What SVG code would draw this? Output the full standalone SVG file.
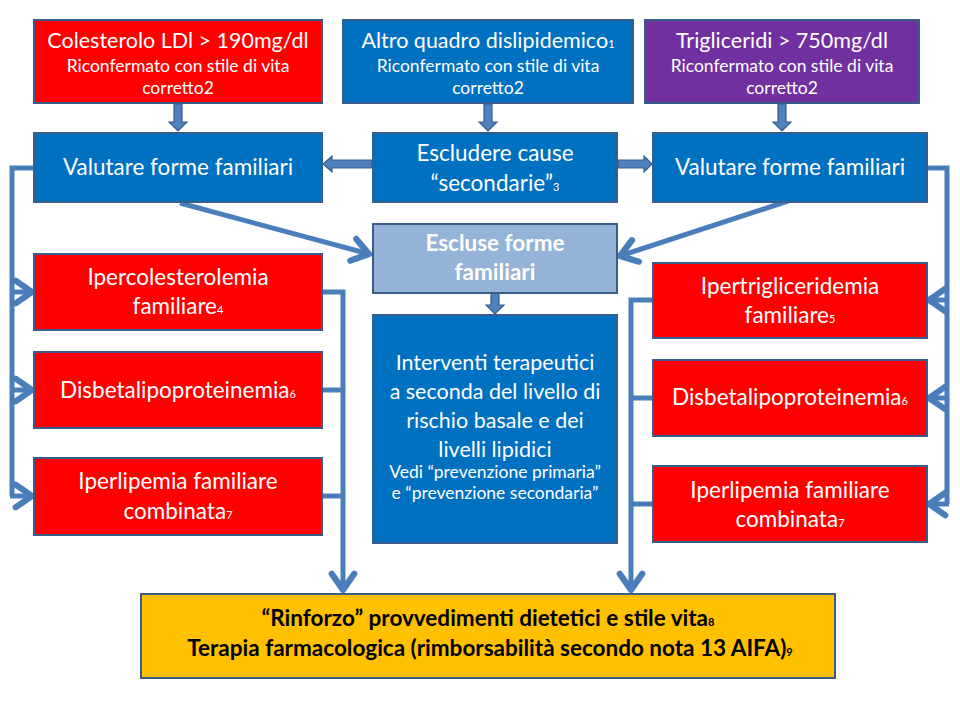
<svg xmlns="http://www.w3.org/2000/svg" width="960" height="720" viewBox="0 0 960 720">
<defs>
<style>
.box{stroke:#385D8A;stroke-width:2}
.red{fill:#FF0000}
.blue{fill:#0070C0}
.purple{fill:#7030A0}
.light{fill:#95B3D7}
.yellow{fill:#FFC000}
text{font-family:Lato,"Open Sans","Liberation Sans",sans-serif;fill:#fff;text-anchor:middle}
.t{font-size:22.5px}
.h{font-size:21.5px}
.m{font-size:21.5px}
.s{font-size:17.5px}
.b{font-weight:bold}
.k{fill:#000;font-weight:bold;font-size:22.5px}
.sub{font-size:11px}
.conn{fill:none;stroke:#4A7EBB;stroke-width:5;stroke-linejoin:miter}
.blk{fill:#4F81BD;stroke:#385D8A;stroke-width:1.2}
</style>
<marker id="oa" markerUnits="userSpaceOnUse" markerWidth="30" markerHeight="30" viewBox="-16 -12 20 24" refX="0" refY="0" orient="auto">
<path d="M-13,-9 L0,0 L-13,9" fill="none" stroke="#4A7EBB" stroke-width="5" stroke-linecap="round" stroke-linejoin="round"/>
</marker>
</defs>
<rect width="960" height="720" fill="#fff"/>

<g id="connectors">
<polygon class="blk" points="174,104 182,104 182,122 187,122 178,131 169,122 174,122"/>
<polygon class="blk" points="484,104 492,104 492,122 497,122 488,131 479,122 484,122"/>
<polygon class="blk" points="778,104 786,104 786,122 791,122 782,131 773,122 778,122"/>
<polygon class="blk" points="372,160 332,160 332,156 323,164 332,172 332,168 372,168"/>
<polygon class="blk" points="618,160 644,160 644,156 652,164 644,172 644,168 618,168"/>
<polygon class="blk" points="491,293 499,293 499,305 504,305 495,314 486,305 491,305"/>
<path class="conn" d="M180,203 L369,254" marker-end="url(#oa)"/>
<path class="conn" d="M788,201 L620,256" marker-end="url(#oa)"/>
<path class="conn" d="M34,168 H12 V496"/>
<path class="conn" d="M12,292 H32" marker-end="url(#oa)"/>
<path class="conn" d="M12,390 H32" marker-end="url(#oa)"/>
<path class="conn" d="M10,496 H32" marker-end="url(#oa)"/>
<path class="conn" d="M927,168 H947 V504"/>
<path class="conn" d="M947,300 H929" marker-end="url(#oa)"/>
<path class="conn" d="M947,398 H929" marker-end="url(#oa)"/>
<path class="conn" d="M949,504 H929" marker-end="url(#oa)"/>
<path class="conn" d="M321,292 H343 V590" marker-end="url(#oa)"/>
<path class="conn" d="M321,390 H343"/>
<path class="conn" d="M321,496 H343"/>
<path class="conn" d="M653,300 H631 V590" marker-end="url(#oa)"/>
<path class="conn" d="M653,398 H631"/>
<path class="conn" d="M653,504 H631"/>
</g>

<g id="n1">
<rect class="box red" x="34" y="20" width="288" height="83"/>
<text class="h" x="178" y="48">Colesterolo LDl &gt; 190mg/dl</text>
<text class="s" x="178" y="72">Riconfermato con stile di vita</text>
<text class="s" x="178" y="94">corretto2</text>
</g>
<g id="n2">
<rect class="box blue" x="343" y="20" width="290" height="83"/>
<text class="h" x="488" y="48">Altro quadro dislipidemico<tspan class="sub">1</tspan></text>
<text class="s" x="488" y="72">Riconfermato con stile di vita</text>
<text class="s" x="488" y="94">corretto2</text>
</g>
<g id="n3">
<rect class="box purple" x="645" y="20" width="274" height="83"/>
<text class="h" x="782" y="48">Trigliceridi &gt; 750mg/dl</text>
<text class="s" x="782" y="72">Riconfermato con stile di vita</text>
<text class="s" x="782" y="94">corretto2</text>
</g>

<g id="n4">
<rect class="box blue" x="34" y="133" width="288" height="69"/>
<text class="t" x="178" y="175">Valutare forme familiari</text>
</g>
<g id="n5">
<rect class="box blue" x="373" y="133" width="244" height="69"/>
<text class="t" x="495" y="161">Escludere cause</text>
<text class="t" x="495" y="191">“secondarie”<tspan class="sub">3</tspan></text>
</g>
<g id="n6">
<rect class="box blue" x="653" y="133" width="274" height="69"/>
<text class="t" x="790" y="175">Valutare forme familiari</text>
</g>

<g id="n7">
<rect class="box light" x="373" y="224" width="244" height="69"/>
<text class="t b" x="495" y="251">Escluse forme</text>
<text class="t b" x="495" y="280">familiari</text>
</g>
<g id="n8">
<rect class="box blue" x="373" y="315" width="244" height="228"/>
<text class="m" x="495" y="370">Interventi terapeutici</text>
<text class="m" x="495" y="399">a seconda del livello di</text>
<text class="m" x="495" y="428">rischio basale e dei</text>
<text class="m" x="495" y="457">livelli lipidici</text>
<text class="s" x="495" y="478">Vedi “prevenzione primaria”</text>
<text class="s" x="495" y="499">e “prevenzione secondaria”</text>
</g>

<g id="n9">
<rect class="box red" x="34" y="254" width="288" height="76"/>
<text class="t" x="178" y="285">Ipercolesterolemia</text>
<text class="t" x="178" y="314">familiare<tspan class="sub">4</tspan></text>
</g>
<g id="n10">
<rect class="box red" x="34" y="352" width="288" height="76"/>
<text class="t" x="178" y="398">Disbetalipoproteinemia<tspan class="sub">6</tspan></text>
</g>
<g id="n11">
<rect class="box red" x="34" y="458" width="288" height="77"/>
<text class="t" x="178" y="489">Iperlipemia familiare</text>
<text class="t" x="178" y="519">combinata<tspan class="sub">7</tspan></text>
</g>

<g id="n12">
<rect class="box red" x="653" y="263" width="274" height="75"/>
<text class="t" x="790" y="294">Ipertrigliceridemia</text>
<text class="t" x="790" y="323">familiare<tspan class="sub">5</tspan></text>
</g>
<g id="n13">
<rect class="box red" x="653" y="360" width="274" height="76"/>
<text class="t" x="790" y="405">Disbetalipoproteinemia<tspan class="sub">6</tspan></text>
</g>
<g id="n14">
<rect class="box red" x="653" y="466" width="274" height="76"/>
<text class="t" x="790" y="498">Iperlipemia familiare</text>
<text class="t" x="790" y="527">combinata<tspan class="sub">7</tspan></text>
</g>

<g id="n15">
<rect class="box yellow" x="141" y="594" width="694" height="84"/>
<text class="k" x="488" y="626">“Rinforzo” provvedimenti dietetici e stile vita<tspan class="sub">8</tspan></text>
<text class="k" x="490" y="656">Terapia farmacologica (rimborsabilità secondo nota 13 AIFA)<tspan class="sub">9</tspan></text>
</g>
</svg>
